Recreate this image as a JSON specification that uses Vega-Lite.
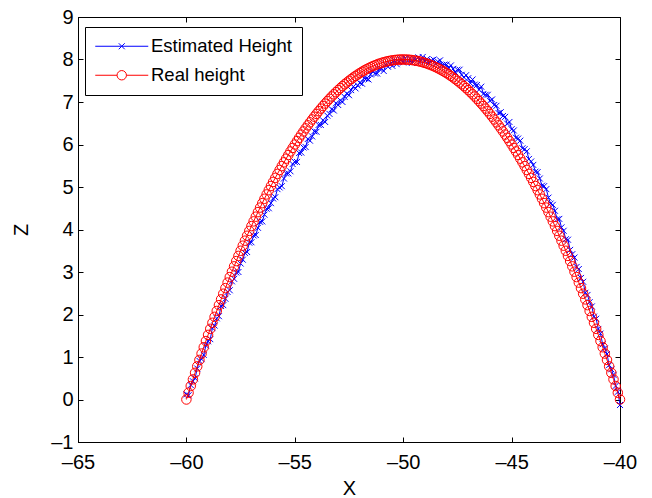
{
"$schema": "https://vega.github.io/schema/vega-lite/v6.json",
"width": 542, "height": 425,
"autosize": "none",
"padding": {"left": 78, "top": 17, "right": 32, "bottom": 56},
"background": "white",
"config": {
  "font": "Liberation Sans",
  "view": {"stroke": "black", "strokeWidth": 1},
  "axis": {"grid": false, "domainColor": "black", "domainWidth": 1, "tickColor": "black", "tickWidth": 1, "tickSize": -5,
           "labelColor": "black", "labelFont": "Liberation Sans", "labelFontSize": 20, "labelFlush": false, "labelOverlap": false,
           "labelExpr": "replace(replace(datum.label, '−', '–'), '-', '–')",
           "titleColor": "black", "titleFont": "Liberation Sans", "titleFontSize": 20, "titleFontWeight": "normal"}
},
"data": {"values": [
{"x":-60,"est":0.12,"real":0},{"x":-59.9,"est":0.10,"real":0.159},{"x":-59.8,"est":0.34,"real":0.317},{"x":-59.7,"est":0.43,"real":0.473},{"x":-59.6,"est":0.50,"real":0.627},{"x":-59.5,"est":0.73,"real":0.78},{"x":-59.4,"est":0.91,"real":0.931},{"x":-59.3,"est":0.95,"real":1.081},{"x":-59.2,"est":1.05,"real":1.229},{"x":-59.1,"est":1.27,"real":1.375},
{"x":-59,"est":1.37,"real":1.52},{"x":-58.9,"est":1.42,"real":1.663},{"x":-58.8,"est":1.68,"real":1.805},{"x":-58.7,"est":1.74,"real":1.945},{"x":-58.6,"est":1.91,"real":2.083},{"x":-58.5,"est":1.96,"real":2.22},{"x":-58.4,"est":2.20,"real":2.355},{"x":-58.3,"est":2.22,"real":2.489},{"x":-58.2,"est":2.37,"real":2.621},{"x":-58.1,"est":2.53,"real":2.751},
{"x":-58,"est":2.57,"real":2.88},{"x":-57.9,"est":2.78,"real":3.007},{"x":-57.8,"est":2.84,"real":3.133},{"x":-57.7,"est":2.99,"real":3.257},{"x":-57.6,"est":3.00,"real":3.379},{"x":-57.5,"est":3.20,"real":3.5},{"x":-57.4,"est":3.29,"real":3.619},{"x":-57.3,"est":3.45,"real":3.737},{"x":-57.2,"est":3.47,"real":3.853},{"x":-57.1,"est":3.69,"real":3.967},
{"x":-57,"est":3.70,"real":4.08},{"x":-56.9,"est":3.86,"real":4.191},{"x":-56.8,"est":3.87,"real":4.301},{"x":-56.7,"est":4.04,"real":4.409},{"x":-56.6,"est":4.18,"real":4.515},{"x":-56.5,"est":4.19,"real":4.62},{"x":-56.4,"est":4.35,"real":4.723},{"x":-56.3,"est":4.49,"real":4.825},{"x":-56.2,"est":4.50,"real":4.925},{"x":-56.1,"est":4.62,"real":5.023},
{"x":-56,"est":4.73,"real":5.12},{"x":-55.9,"est":4.76,"real":5.215},{"x":-55.8,"est":4.95,"real":5.309},{"x":-55.7,"est":4.99,"real":5.401},{"x":-55.6,"est":5.02,"real":5.491},{"x":-55.5,"est":5.20,"real":5.58},{"x":-55.4,"est":5.32,"real":5.667},{"x":-55.3,"est":5.32,"real":5.753},{"x":-55.2,"est":5.37,"real":5.837},{"x":-55.1,"est":5.54,"real":5.919},
{"x":-55,"est":5.59,"real":6},{"x":-54.9,"est":5.59,"real":6.079},{"x":-54.8,"est":5.80,"real":6.157},{"x":-54.7,"est":5.81,"real":6.233},{"x":-54.6,"est":5.93,"real":6.307},{"x":-54.5,"est":5.94,"real":6.38},{"x":-54.4,"est":6.13,"real":6.451},{"x":-54.3,"est":6.09,"real":6.521},{"x":-54.2,"est":6.19,"real":6.589},{"x":-54.1,"est":6.31,"real":6.655},
{"x":-54,"est":6.30,"real":6.72},{"x":-53.9,"est":6.46,"real":6.783},{"x":-53.8,"est":6.46,"real":6.845},{"x":-53.7,"est":6.57,"real":6.905},{"x":-53.6,"est":6.53,"real":6.963},{"x":-53.5,"est":6.68,"real":7.02},{"x":-53.4,"est":6.72,"real":7.075},{"x":-53.3,"est":6.83,"real":7.129},{"x":-53.2,"est":6.80,"real":7.181},{"x":-53.1,"est":6.97,"real":7.231},
{"x":-53,"est":6.93,"real":7.28},{"x":-52.9,"est":7.04,"real":7.327},{"x":-52.8,"est":7.00,"real":7.373},{"x":-52.7,"est":7.12,"real":7.417},{"x":-52.6,"est":7.20,"real":7.459},{"x":-52.5,"est":7.16,"real":7.5},{"x":-52.4,"est":7.28,"real":7.539},{"x":-52.3,"est":7.36,"real":7.577},{"x":-52.2,"est":7.32,"real":7.613},{"x":-52.1,"est":7.39,"real":7.647},
{"x":-52,"est":7.45,"real":7.68},{"x":-51.9,"est":7.43,"real":7.711},{"x":-51.8,"est":7.56,"real":7.741},{"x":-51.7,"est":7.55,"real":7.769},{"x":-51.6,"est":7.53,"real":7.795},{"x":-51.5,"est":7.65,"real":7.82},{"x":-51.4,"est":7.72,"real":7.843},{"x":-51.3,"est":7.67,"real":7.865},{"x":-51.2,"est":7.67,"real":7.885},{"x":-51.1,"est":7.78,"real":7.903},
{"x":-51,"est":7.78,"real":7.92},{"x":-50.9,"est":7.73,"real":7.935},{"x":-50.8,"est":7.88,"real":7.949},{"x":-50.7,"est":7.83,"real":7.961},{"x":-50.6,"est":7.90,"real":7.971},{"x":-50.5,"est":7.85,"real":7.98},{"x":-50.4,"est":7.98,"real":7.987},{"x":-50.3,"est":7.89,"real":7.993},{"x":-50.2,"est":7.94,"real":7.997},{"x":-50.1,"est":8.00,"real":7.999},
{"x":-50,"est":7.93,"real":8},{"x":-49.9,"est":8.03,"real":7.999},{"x":-49.8,"est":7.97,"real":7.997},{"x":-49.7,"est":8.03,"real":7.993},{"x":-49.6,"est":7.92,"real":7.987},{"x":-49.5,"est":8.02,"real":7.98},{"x":-49.4,"est":8.00,"real":7.971},{"x":-49.3,"est":8.05,"real":7.961},{"x":-49.2,"est":7.96,"real":7.949},{"x":-49.1,"est":8.06,"real":7.935},
{"x":-49,"est":7.97,"real":7.92},{"x":-48.9,"est":8.01,"real":7.903},{"x":-48.8,"est":7.92,"real":7.885},{"x":-48.7,"est":7.98,"real":7.865},{"x":-48.6,"est":8.00,"real":7.843},{"x":-48.5,"est":7.90,"real":7.82},{"x":-48.4,"est":7.95,"real":7.795},{"x":-48.3,"est":7.98,"real":7.769},{"x":-48.2,"est":7.87,"real":7.741},{"x":-48.1,"est":7.88,"real":7.711},
{"x":-48,"est":7.88,"real":7.68},{"x":-47.9,"est":7.80,"real":7.647},{"x":-47.8,"est":7.86,"real":7.613},{"x":-47.7,"est":7.78,"real":7.577},{"x":-47.6,"est":7.70,"real":7.539},{"x":-47.5,"est":7.76,"real":7.5},{"x":-47.4,"est":7.76,"real":7.459},{"x":-47.3,"est":7.64,"real":7.417},{"x":-47.2,"est":7.58,"real":7.373},{"x":-47.1,"est":7.63,"real":7.327},
{"x":-47,"est":7.56,"real":7.28},{"x":-46.9,"est":7.44,"real":7.231},{"x":-46.8,"est":7.53,"real":7.181},{"x":-46.7,"est":7.41,"real":7.129},{"x":-46.6,"est":7.40,"real":7.075},{"x":-46.5,"est":7.29,"real":7.02},{"x":-46.4,"est":7.36,"real":6.963},{"x":-46.3,"est":7.19,"real":6.905},{"x":-46.2,"est":7.17,"real":6.845},{"x":-46.1,"est":7.17,"real":6.783},
{"x":-46,"est":7.03,"real":6.72},{"x":-45.9,"est":7.06,"real":6.655},{"x":-45.8,"est":6.93,"real":6.589},{"x":-45.7,"est":6.91,"real":6.521},{"x":-45.6,"est":6.74,"real":6.451},{"x":-45.5,"est":6.76,"real":6.38},{"x":-45.4,"est":6.67,"real":6.307},{"x":-45.3,"est":6.65,"real":6.233},{"x":-45.2,"est":6.49,"real":6.157},{"x":-45.1,"est":6.53,"real":6.079},
{"x":-45,"est":6.36,"real":6},{"x":-44.9,"est":6.33,"real":5.919},{"x":-44.8,"est":6.16,"real":5.837},{"x":-44.7,"est":6.14,"real":5.753},{"x":-44.6,"est":6.09,"real":5.667},{"x":-44.5,"est":5.91,"real":5.58},{"x":-44.4,"est":5.89,"real":5.491},{"x":-44.3,"est":5.84,"real":5.401},{"x":-44.2,"est":5.66,"real":5.309},{"x":-44.1,"est":5.60,"real":5.215},
{"x":-44,"est":5.52,"real":5.12},{"x":-43.9,"est":5.36,"real":5.023},{"x":-43.8,"est":5.35,"real":4.925},{"x":-43.7,"est":5.20,"real":4.825},{"x":-43.6,"est":5.03,"real":4.723},{"x":-43.5,"est":5.02,"real":4.62},{"x":-43.4,"est":4.95,"real":4.515},{"x":-43.3,"est":4.75,"real":4.409},{"x":-43.2,"est":4.61,"real":4.301},{"x":-43.1,"est":4.58,"real":4.191},
{"x":-43,"est":4.44,"real":4.08},{"x":-42.9,"est":4.24,"real":3.967},{"x":-42.8,"est":4.25,"real":3.853},{"x":-42.7,"est":4.05,"real":3.737},{"x":-42.6,"est":3.97,"real":3.619},{"x":-42.5,"est":3.77,"real":3.5},{"x":-42.4,"est":3.76,"real":3.379},{"x":-42.3,"est":3.52,"real":3.257},{"x":-42.2,"est":3.42,"real":3.133},{"x":-42.1,"est":3.34,"real":3.007},
{"x":-42,"est":3.12,"real":2.88},{"x":-41.9,"est":3.07,"real":2.751},{"x":-41.8,"est":2.86,"real":2.621},{"x":-41.7,"est":2.77,"real":2.489},{"x":-41.6,"est":2.51,"real":2.355},{"x":-41.5,"est":2.46,"real":2.22},{"x":-41.4,"est":2.29,"real":2.083},{"x":-41.3,"est":2.19,"real":1.945},{"x":-41.2,"est":1.95,"real":1.805},{"x":-41.1,"est":1.90,"real":1.663},
{"x":-41,"est":1.66,"real":1.52},{"x":-40.9,"est":1.55,"real":1.375},{"x":-40.8,"est":1.30,"real":1.229},{"x":-40.7,"est":1.20,"real":1.081},{"x":-40.6,"est":1.07,"real":0.931},{"x":-40.5,"est":0.81,"real":0.78},{"x":-40.4,"est":0.71,"real":0.627},{"x":-40.3,"est":0.58,"real":0.473},{"x":-40.2,"est":0.32,"real":0.317},{"x":-40.1,"est":0.18,"real":0.159},
{"x":-40,"est":-0.13,"real":0}
]},
"transform": [{"fold": ["est", "real"], "as": ["series", "z"]}],
"layer": [
  {"transform": [{"filter": "datum.series === 'est'"}],
   "mark": {"type": "line", "strokeWidth": 1, "color": "#0000ff"},
   "encoding": {
     "x": {"field": "x", "type": "quantitative", "scale": {"domain": [-65, -40], "nice": false, "zero": false},
           "axis": {"orient": "top", "values": [-65, -60, -55, -50, -45, -40], "labels": false, "title": null, "domain": false}},
     "y": {"field": "z", "type": "quantitative", "scale": {"domain": [-1, 9], "nice": false, "zero": false},
           "axis": {"orient": "right", "values": [-1, 0, 1, 2, 3, 4, 5, 6, 7, 8, 9], "labels": false, "title": null, "domain": false}}
   }},
  {"transform": [{"filter": "datum.series === 'est'"}],
   "mark": {"type": "point", "filled": false, "strokeWidth": 1, "opacity": 1, "color": "#0000ff", "shape": "M-1,-1L1,1M1,-1L-1,1", "size": 36},
   "encoding": {
     "x": {"field": "x", "type": "quantitative",
           "axis": {"orient": "bottom", "values": [-65, -60, -55, -50, -45, -40], "title": "X", "labelPadding": 15, "titlePadding": 6}},
     "y": {"field": "z", "type": "quantitative",
           "axis": {"orient": "left", "values": [-1, 0, 1, 2, 3, 4, 5, 6, 7, 8, 9], "title": "Z", "labelPadding": 10, "titlePadding": 19}}
   }},
  {"transform": [{"filter": "datum.series === 'real'"}],
   "mark": {"type": "line", "strokeWidth": 1, "color": "#ff0000"},
   "encoding": {
     "x": {"field": "x", "type": "quantitative", "axis": null},
     "y": {"field": "z", "type": "quantitative", "axis": null}
   }},
  {"transform": [{"filter": "datum.series === 'real'"}],
   "mark": {"type": "point", "filled": false, "strokeWidth": 1, "opacity": 1, "color": "#ff0000", "shape": "circle", "size": 90},
   "encoding": {
     "x": {"field": "x", "type": "quantitative", "axis": null},
     "y": {"field": "z", "type": "quantitative", "axis": null}
   }},
  {"transform": [{"filter": "false"}],
   "mark": {"type": "point", "filled": false, "strokeWidth": 1, "opacity": 1, "size": 25},
   "encoding": {
     "x": {"field": "x", "type": "quantitative", "axis": null},
     "y": {"field": "z", "type": "quantitative", "axis": null},
     "color": {"field": "series", "type": "nominal",
       "scale": {"domain": ["est", "real"], "range": ["#0000ff", "#ff0000"]},
       "legend": {"orient": "none", "legendX": 7, "legendY": 10, "title": null,
         "padding": 10, "strokeColor": "black", "fillColor": "white", "cornerRadius": 0,
         "labelFontSize": 18.5, "labelColor": "black", "labelFont": "Liberation Sans",
         "labelExpr": "datum.value === 'est' ? 'Estimated Height' : 'Real height'",
         "symbolOffset": 17.5, "labelOffset": 20, "rowPadding": 10, "symbolSize": 25, "symbolStrokeWidth": 1}},
     "shape": {"field": "series", "type": "nominal",
       "scale": {"domain": ["est", "real"], "range": ["M-10.6,0L10.6,0M-1.2,-1.2L1.2,1.2M1.2,-1.2L-1.2,1.2", "M-10.6,0L-1.88,0M1.88,0L10.6,0M1.88,0A1.88,1.88,0,1,1,-1.88,0A1.88,1.88,0,1,1,1.88,0"]},
       "legend": {"orient": "none", "legendX": 7, "legendY": 10, "title": null,
         "padding": 10, "strokeColor": "black", "fillColor": "white", "cornerRadius": 0,
         "labelFontSize": 18.5, "labelColor": "black", "labelFont": "Liberation Sans",
         "labelExpr": "datum.value === 'est' ? 'Estimated Height' : 'Real height'",
         "symbolOffset": 17.5, "labelOffset": 20, "rowPadding": 10, "symbolSize": 25, "symbolStrokeWidth": 1}}
   }}
],
"resolve": {"axis": {"x": "independent", "y": "independent"}}
}
